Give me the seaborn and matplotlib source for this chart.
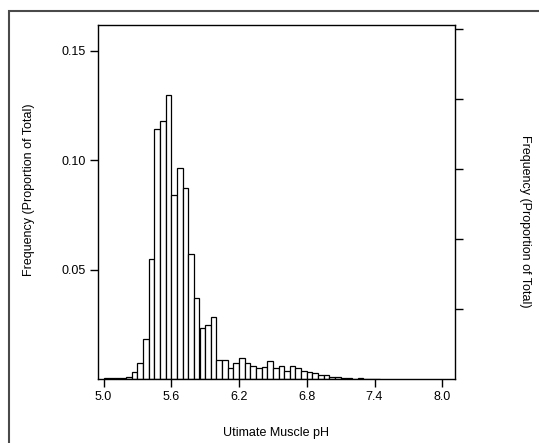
import numpy as np
import pandas as pd
import matplotlib
matplotlib.use('Agg')
import matplotlib.pyplot as plt
from matplotlib.patches import Rectangle
import seaborn as sns

# bin edges (width 0.05) and proportion of total in each bin
bin_left = np.round(np.arange(5.00, 7.45, 0.05), 2)
freq = [0.0005, 0.0003, 0.0003, 0.0005, 0.0011, 0.0030, 0.0075, 0.0184, 0.0550, 0.1144,
        0.1180, 0.1297, 0.0840, 0.0963, 0.0875, 0.0570, 0.0369, 0.0233, 0.0245, 0.0285,
        0.0086, 0.0086, 0.0049, 0.0072, 0.0096, 0.0073, 0.0059, 0.0052, 0.0053, 0.0081,
        0.0049, 0.0061, 0.0037, 0.0058, 0.0049, 0.0037, 0.0030, 0.0026, 0.0020, 0.0018,
        0.0008, 0.0007, 0.0003, 0.0003, 0.0002, 0.0003, 0.0001, 0.0001, 0.0002]

x_ticks = [5.0, 5.6, 6.2, 6.8, 7.4, 8.0]
x_ticklabels = ['5.0', '5.6', '6.2', '6.8', '7.4', '8.0']
y_ticks = [0.05, 0.10, 0.15]
y_ticklabels = ['0.05', '0.10', '0.15']
right_ticks = [0.032, 0.064, 0.096, 0.128, 0.160]

sns.set_theme(style='ticks')
plt.rcParams['font.family'] = ['Liberation Sans', 'DejaVu Sans']

fig = plt.figure(figsize=(5.39, 4.43), dpi=100)
ax = fig.add_axes([98/539, 1-379/443, 357/539, 354/443])

n = len(freq)
df = pd.DataFrame({'ph': bin_left[:n] + 0.025, 'prop': freq})
edges = list(np.round(np.append(bin_left[:n], bin_left[n-1] + 0.05), 3))
sns.histplot(data=df, x='ph', weights='prop', bins=edges, stat='count', ax=ax,
             color='white', edgecolor='black', linewidth=0.9, alpha=1)

ax.set_xlim(4.951, 8.113)
ax.set_ylim(0, 0.1618)
ax.set_xticks(x_ticks)
ax.set_xticklabels(x_ticklabels, fontsize=9, color='black')
ax.set_yticks(y_ticks)
ax.set_yticklabels(y_ticklabels, fontsize=9, color='black')
ax.tick_params(axis='both', direction='out', length=6, width=1, colors='black', pad=3)
ax.set_xlabel('')
ax.set_ylabel('')
for s in ax.spines.values():
    s.set_visible(False)
for s in ['left', 'bottom', 'top']:
    ax.spines[s].set_visible(True)
    ax.spines[s].set_color('black')
    ax.spines[s].set_linewidth(1)

ax2 = ax.twinx()
ax2.set_ylim(0, 0.1618)
ax2.set_yticks(right_ticks)
ax2.set_yticklabels([])
ax2.tick_params(axis='y', direction='out', length=6, width=1, colors='black')
for s in ax2.spines.values():
    s.set_visible(False)
ax2.spines['right'].set_visible(True)
ax2.spines['right'].set_color('black')
ax2.spines['right'].set_linewidth(1)

fig.text(29/539, 1-190/443, 'Frequency (Proportion of Total)', rotation=90,
         ha='center', va='center', fontsize=9, color='black')
fig.text(525/539, 1-221/443, 'Frequency (Proportion of Total)', rotation=270,
         ha='center', va='center', fontsize=9, color='black')
fig.text(276/539, 1-433/443, 'Utimate Muscle pH', ha='center', va='center',
         fontsize=9, color='black')

fig.patches.append(Rectangle((9/539, -0.1), 1.2, 1-11/443+0.1, transform=fig.transFigure,
                             fill=False, edgecolor='#4a4a4a', linewidth=1.5))

fig.savefig('out.png', dpi=100)
